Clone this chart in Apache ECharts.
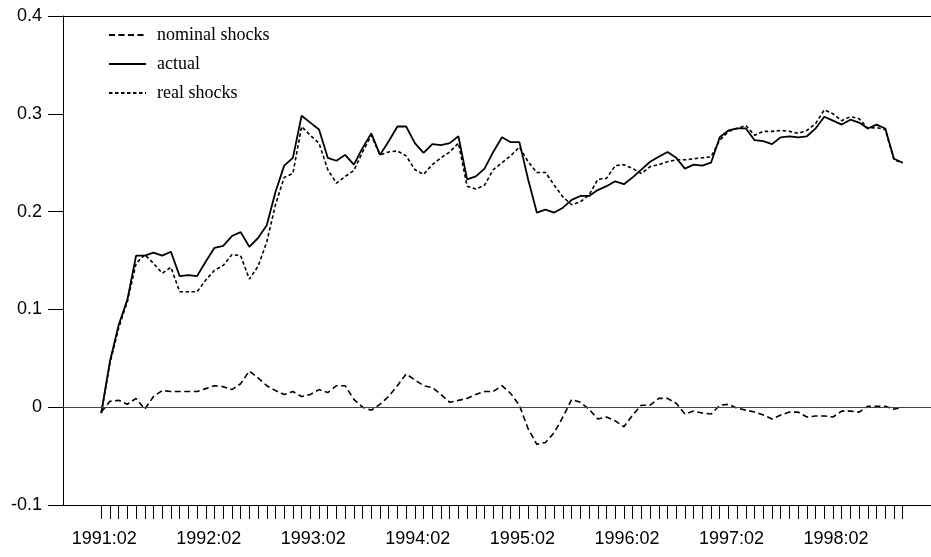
<!DOCTYPE html>
<html>
<head>
<meta charset="utf-8">
<script src="https://cdn.jsdelivr.net/npm/echarts@6/dist/echarts.min.js"></script>
<style>
html,body{margin:0;padding:0;background:#fff;}
#main{width:931px;height:557px;}
</style>
</head>
<body>
<div id="main"></div>
<script>
// monthly, 1991:02 .. 1998:10
var tickLabels=['1991:02','1992:02','1993:02','1994:02','1995:02','1996:02','1997:02','1998:02'];
var nominal=[-0.005,0.006,0.007,0.003,0.009,-0.002,0.011,0.017,0.016,0.016,0.016,0.016,0.019,0.022,0.021,0.018,0.024,0.037,0.030,0.022,
    0.017,0.013,0.016,0.011,0.013,0.018,0.015,0.022,0.022,0.008,0.000,-0.003,0.003,0.011,0.022,0.034,0.028,0.022,0.020,0.013,
    0.005,0.007,0.009,0.013,0.016,0.016,0.022,0.014,0.002,-0.022,-0.038,-0.036,-0.026,-0.010,0.008,0.005,-0.002,-0.012,-0.010,-0.014,
    -0.020,-0.008,0.002,0.002,0.009,0.009,0.004,-0.007,-0.004,-0.006,-0.007,0.002,0.003,-0.001,-0.003,-0.005,-0.008,-0.012,-0.008,-0.005,
    -0.005,-0.010,-0.009,-0.009,-0.010,-0.004,-0.004,-0.005,0.001,0.001,0.001,-0.002,0.000];
var actual=[-0.006,0.047,0.084,0.110,0.155,0.155,0.158,0.155,0.159,0.134,0.135,0.134,0.149,0.163,0.165,0.175,0.179,0.164,0.173,0.186,
    0.220,0.247,0.255,0.298,0.291,0.284,0.255,0.252,0.258,0.248,0.265,0.280,0.258,0.272,0.287,0.287,0.270,0.260,0.269,0.268,
    0.270,0.277,0.233,0.236,0.244,0.261,0.276,0.271,0.271,0.233,0.199,0.202,0.199,0.204,0.212,0.216,0.216,0.222,0.226,0.231,
    0.228,0.235,0.243,0.251,0.256,0.261,0.255,0.244,0.248,0.247,0.250,0.276,0.283,0.285,0.285,0.273,0.272,0.269,0.276,0.277,
    0.276,0.277,0.285,0.297,0.293,0.289,0.294,0.291,0.285,0.289,0.285,0.254,0.250];
var real=[-0.006,0.045,0.081,0.108,0.147,0.156,0.147,0.137,0.143,0.118,0.118,0.118,0.130,0.140,0.145,0.156,0.155,0.131,0.144,0.169,
    0.207,0.235,0.239,0.287,0.278,0.270,0.243,0.229,0.236,0.242,0.261,0.278,0.258,0.261,0.262,0.257,0.243,0.238,0.248,0.255,
    0.261,0.270,0.226,0.223,0.227,0.243,0.250,0.257,0.266,0.251,0.240,0.240,0.227,0.215,0.207,0.210,0.217,0.233,0.234,0.247,
    0.248,0.244,0.239,0.246,0.248,0.251,0.253,0.253,0.254,0.255,0.256,0.273,0.282,0.285,0.288,0.278,0.282,0.282,0.283,0.282,
    0.280,0.283,0.290,0.304,0.300,0.293,0.297,0.295,0.285,0.286,0.284,0.253,0.250];

function pairs(arr){
    var out=[];
    for(var i=0;i<arr.length;i++){
        out.push([i,arr[i]]);
    }
    return out;
}
var monthTicks=[];
for(var i=0;i<actual.length;i++){monthTicks.push(i);}
var labelTicks=[];
for(var k=0;k<tickLabels.length;k++){labelTicks.push(k*12);}

var sans='Liberation Sans';
var serif='Liberation Serif';

var option={
    animation:false,
    backgroundColor:'#fff',
    color:['#000','#000','#000'],
    grid:{left:63,right:0,top:16,bottom:52},
    legend:{
        orient:'vertical',
        left:108,
        top:26,
        padding:0,
        itemWidth:37,
        itemHeight:14,
        itemGap:11,
        itemStyle:{opacity:0},
        textStyle:{fontFamily:serif,fontSize:18,lineHeight:14,color:'#000',padding:[0,0,0,6]},
        data:['nominal shocks','actual','real shocks']
    },
    xAxis:[{
        type:'value',
        min:-4.39,
        max:95.25,
        axisLine:{show:true,onZero:false,lineStyle:{color:'#000',width:1}},
        axisTick:{show:true,length:14,customValues:monthTicks,lineStyle:{color:'#000',width:1}},
        axisLabel:{
            customValues:labelTicks,
            margin:25,
            padding:[0,0,0,6],
            fontFamily:sans,fontSize:18,color:'#000',
            formatter:function(v){return tickLabels[Math.round(v/12)];}
        },
        splitLine:{show:false}
    },{
        // top border line only
        type:'value',
        position:'top',
        min:-4.39,
        max:95.25,
        axisLine:{show:true,onZero:false,lineStyle:{color:'#000',width:1}},
        axisTick:{show:false},
        axisLabel:{show:false},
        splitLine:{show:false}
    }],
    yAxis:{
        type:'value',
        min:-0.1,
        max:0.4,
        interval:0.1,
        axisLine:{show:true,onZero:false,lineStyle:{color:'#000',width:1}},
        axisTick:{show:true,length:15,lineStyle:{color:'#000',width:1}},
        axisLabel:{
            margin:21,
            fontFamily:sans,fontSize:18,color:'#000',
            formatter:function(v){
                if(Math.abs(v)<1e-9){return '0';}
                return v.toFixed(1);
            }
        },
        splitLine:{show:false}
    },
    series:[
        {
            name:'nominal shocks',
            type:'line',
            symbol:'none',
            data:pairs(nominal),
            itemStyle:{color:'#000'},
            lineStyle:{color:'#000',width:1.6,type:[6,3.5]},
            markLine:{
                silent:true,
                symbol:'none',
                label:{show:false},
                lineStyle:{color:'#444',width:1,type:'solid'},
                data:[{yAxis:0}]
            }
        },
        {
            name:'actual',
            type:'line',
            symbol:'none',
            data:pairs(actual),
            itemStyle:{color:'#000'},
            lineStyle:{color:'#000',width:1.8,type:'solid'}
        },
        {
            name:'real shocks',
            type:'line',
            symbol:'none',
            data:pairs(real),
            itemStyle:{color:'#000'},
            lineStyle:{color:'#000',width:1.6,type:[3.5,2.5]}
        }
    ]
};

var myChart=echarts.init(document.getElementById('main'));
myChart.setOption(option);
</script>
</body>
</html>
